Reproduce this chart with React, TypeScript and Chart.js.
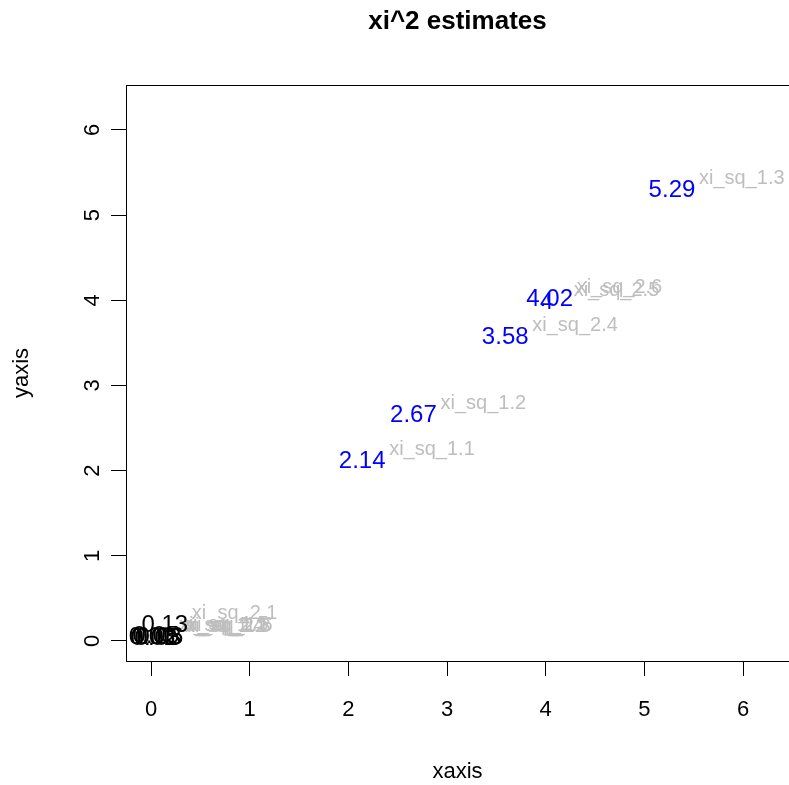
import React, { useEffect, useRef } from "react";
import { Chart, registerables } from "chart.js";

Chart.register(...registerables);

// Data
const names = [
  "xi_sq_1.1", "xi_sq_1.2", "xi_sq_1.3", "xi_sq_1.4", "xi_sq_1.5", "xi_sq_1.6",
  "xi_sq_2.1", "xi_sq_2.2", "xi_sq_2.3", "xi_sq_2.4", "xi_sq_2.5", "xi_sq_2.6",
];
const xValues = [2.14, 2.66, 5.28, 0.01, 0.05, 0.09, 0.14, 0.03, 0.07, 3.59, 4.01, 4.04];
const yValues = [2.11, 2.65, 5.29, 0.04, 0.05, 0.04, 0.18, 0.03, 0.03, 3.56, 3.97, 4.01];
const valueLabels = ["2.14", "2.67", "5.29", "0.03", "0.05", "0.06", "0.13", "0.02", "0.03", "3.58", "4", "4.02"];
const highlighted = [true, true, true, false, false, false, false, false, false, true, true, true];
const xTicks = [0, 1, 2, 3, 4, 5, 6];
const yTicks = [0, 1, 2, 3, 4, 5, 6];

const FONT = "'Liberation Sans', Arial, Helvetica, sans-serif";

const labelPlugin = {
  id: "rtext",
  afterDatasetsDraw(chart: any) {
    const { ctx, chartArea } = chart;
    const xs = chart.scales.x;
    const ys = chart.scales.y;
    ctx.save();
    ctx.beginPath();
    ctx.rect(chartArea.left, chartArea.top, chartArea.right - chartArea.left, chartArea.bottom - chartArea.top);
    ctx.clip();
    // names (grey)
    ctx.font = `20px ${FONT}`;
    ctx.fillStyle = "#BEBEBE";
    ctx.textAlign = "left";
    ctx.textBaseline = "middle";
    names.forEach((n, i) => {
      const px = xs.getPixelForValue(xValues[i]);
      const py = ys.getPixelForValue(yValues[i]);
      ctx.fillText(n, px + 27, py - 12);
    });
    // values
    ctx.font = `24px ${FONT}`;
    ctx.textAlign = "center";
    valueLabels.forEach((v, i) => {
      const px = xs.getPixelForValue(xValues[i]);
      const py = ys.getPixelForValue(yValues[i]);
      ctx.fillStyle = highlighted[i] ? "#0000FF" : "#000000";
      ctx.fillText(v, px, py);
    });
    ctx.restore();
    // box
    ctx.save();
    ctx.strokeStyle = "#000";
    ctx.lineWidth = 1;
    ctx.strokeRect(chartArea.left + 0.5, chartArea.top + 0.5, chartArea.right - chartArea.left + 20, chartArea.bottom - chartArea.top);
    ctx.restore();
  },
};

export default function App() {
  const ref = useRef<HTMLCanvasElement>(null);
  useEffect(() => {
    const canvas = ref.current!;
    const chart = new Chart(canvas, {
      type: "scatter",
      data: {
        datasets: [
          {
            data: xValues.map((x, i) => ({ x, y: yValues[i] })),
            pointRadius: 0,
            showLine: false,
          },
        ],
      },
      options: {
        animation: false,
        responsive: false,
        events: [],
        layout: { padding: 0 },
        plugins: {
          legend: { display: false },
          tooltip: { enabled: false },
          title: {
            display: true,
            text: "xi^2 estimates",
            fullSize: false,
            color: "#000",
            font: { family: FONT, size: 26, weight: "bold" },
            padding: { top: 6.4, bottom: 47.4 },
          },
        },
        scales: {
          x: {
            type: "linear",
            min: -0.2534,
            max: 6.466,
            afterBuildTicks: (s: any) => {
              s.ticks = xTicks.map((v) => ({ value: v }));
            },
            afterFit: (s: any) => {
              s.height = 124;
            },
            grid: { drawOnChartArea: false, drawTicks: true, tickLength: 15, color: "#000", lineWidth: 1 },
            border: { display: false },
            ticks: {
              color: "#000",
              font: { family: FONT, size: 22 },
              padding: 20.8,
              maxRotation: 0,
              autoSkip: false,
              callback: (v: any) => String(v),
            },
            title: {
              display: true,
              text: "xaxis",
              color: "#000",
              font: { family: FONT, size: 22 },
              padding: { top: 0, bottom: 0 },
            },
          },
          y: {
            type: "linear",
            min: -0.235,
            max: 6.528,
            afterBuildTicks: (s: any) => {
              s.ticks = yTicks.map((v) => ({ value: v }));
            },
            afterFit: (s: any) => {
              s.width = 126;
            },
            grid: { drawOnChartArea: false, drawTicks: true, tickLength: 15, color: "#000", lineWidth: 1 },
            border: { display: false },
            ticks: {
              color: "#000",
              font: { family: FONT, size: 22 },
              padding: 11.9,
              minRotation: 90,
              maxRotation: 90,
              crossAlign: "center",
              autoSkip: false,
              callback: (v: any) => String(v),
            },
            title: {
              display: true,
              text: "yaxis",
              color: "#000",
              font: { family: FONT, size: 22 },
              padding: { top: 8.8, bottom: 0 },
            },
          },
        },
      },
      plugins: [labelPlugin],
    } as any);
    return () => chart.destroy();
  }, []);
  return (
    <div style={{ position: "absolute", left: 0, top: 0, width: 789, height: 785, background: "#fff" }}>
      <canvas ref={ref} width={789} height={785} style={{ display: "block", width: 789, height: 785 }} />
    </div>
  );
}
